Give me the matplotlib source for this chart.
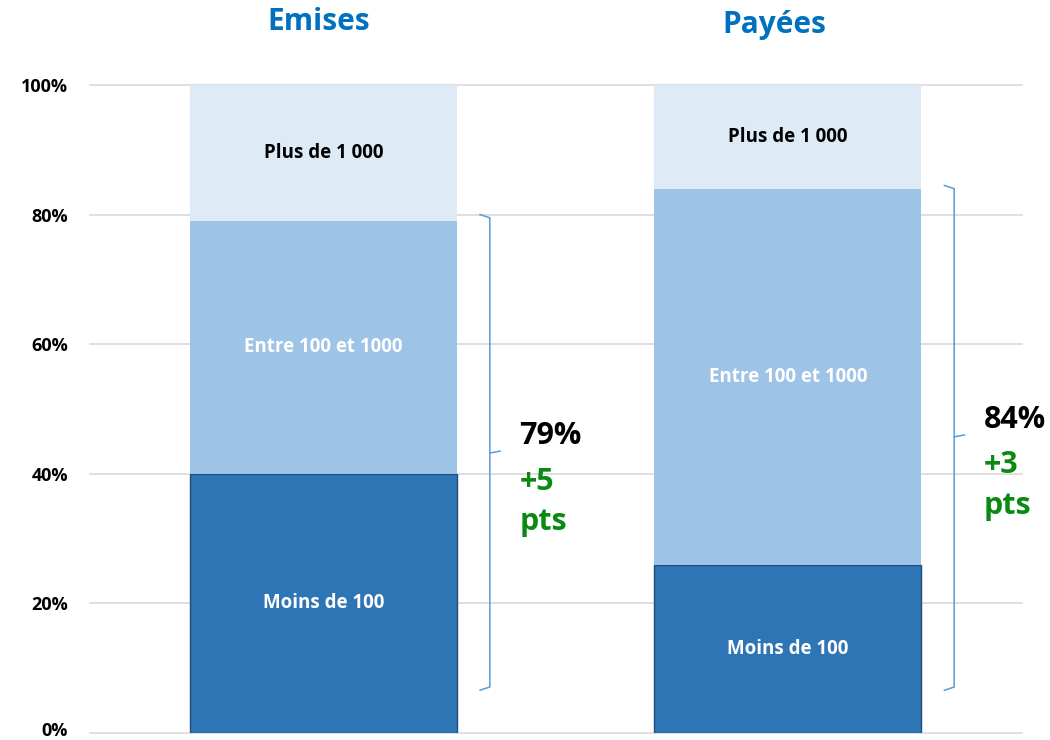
import matplotlib.pyplot as plt
import matplotlib.transforms as mtransforms

# data
categories = ['Emises', 'Payées']
segments = ['Moins de 100', 'Entre 100 et 1000', 'Plus de 1 000']
moins_100 = [40, 26]
entre_100_1000 = [39, 58]
plus_1000 = [21, 16]
totals = ['79%', '84%']
evol_pts = ['+5', '+3']
brace_low = [6.6, 6.6]
brace_high = [80, 84.5]
brace_mid = [43.2, 45.7]

colors = ['#2E75B6', '#9DC3E6', '#DEEBF7']
label_colors = ['white', 'white', 'black']
plt.rcParams['font.family'] = ['Open Sans', 'DejaVu Sans']

fig = plt.figure(figsize=(10.5, 7.4), dpi=100)
ax = fig.add_axes([90 / 1050, 1 - 733 / 740, (1022 - 90) / 1050, (733 - 85) / 740])

x = [0, 1]
width = 0.575
bottoms = [0, 0]
for i, vals in enumerate([moins_100, entre_100_1000, plus_1000]):
    edge = '#1F4E79' if i == 0 else colors[i]
    ax.bar(x, vals, width, bottom=bottoms, color=colors[i], edgecolor=edge,
           linewidth=1 if i == 0 else 0, zorder=3)
    for xi, v, b in zip(x, vals, bottoms):
        ax.text(xi, b + v / 2, segments[i], ha='center', va='center',
                fontsize=13.5, fontweight='bold', color=label_colors[i], zorder=4)
    bottoms = [b + v for b, v in zip(bottoms, vals)]

# braces on the right of each bar
bc = '#5B9BD5'
for xi, lo, hi, mid, tot, evo in zip(x, brace_low, brace_high, brace_mid, totals, evol_pts):
    xv = xi + 0.358
    ax.plot([xv - 0.021, xv, xv, xv - 0.021], [hi, hi - 0.5, lo + 0.5, lo],
            color=bc, lw=1.1, zorder=3, solid_joinstyle='round')
    ax.plot([xv, xv + 0.022], [mid, mid + 0.3], color=bc, lw=1.1, zorder=3)
    tx = xv + 0.064
    ax.text(tx, mid + 2.6, tot, ha='left', va='center', fontsize=22,
            fontweight='bold', color='black')
    ax.text(tx, mid - 4.4, evo, ha='left', va='center', fontsize=22,
            fontweight='bold', color='#0B8A13')
    ax.text(tx, mid - 10.6, 'pts', ha='left', va='center', fontsize=22,
            fontweight='bold', color='#0B8A13')

# titles above bars
trans = mtransforms.blended_transform_factory(ax.transData, fig.transFigure)
ax.text(x[0] - 0.01, 1 - 22 / 740, categories[0], transform=trans, ha='center', va='center',
        fontsize=21.5, fontweight='bold', color='#0070C0')
ax.text(x[1] - 0.03, 1 - 25 / 740, categories[1], transform=trans, ha='center', va='center',
        fontsize=21.5, fontweight='bold', color='#0070C0')

ax.set_xlim(-0.503, 1.504)
ax.set_ylim(0, 100)
ax.set_yticks([0, 20, 40, 60, 80, 100])
ax.set_yticklabels(['0%', '20%', '40%', '60%', '80%', '100%'], fontsize=13, fontweight='bold')
ax.tick_params(axis='y', length=0, pad=16)
ax.set_xticks([])
ax.grid(axis='y', color='#D9D9D9', linewidth=1.2, zorder=0)
for s in ax.spines.values():
    s.set_visible(False)
for gl in ax.get_ygridlines():
    gl.set_clip_on(False)
# lift the 0% label a little so it stays inside the picture
lab0 = ax.get_yticklabels()[0]
lab0.set_transform(lab0.get_transform() + mtransforms.ScaledTranslation(0, 3 / 72, fig.dpi_scale_trans))

fig.savefig('out.png', dpi=100)
